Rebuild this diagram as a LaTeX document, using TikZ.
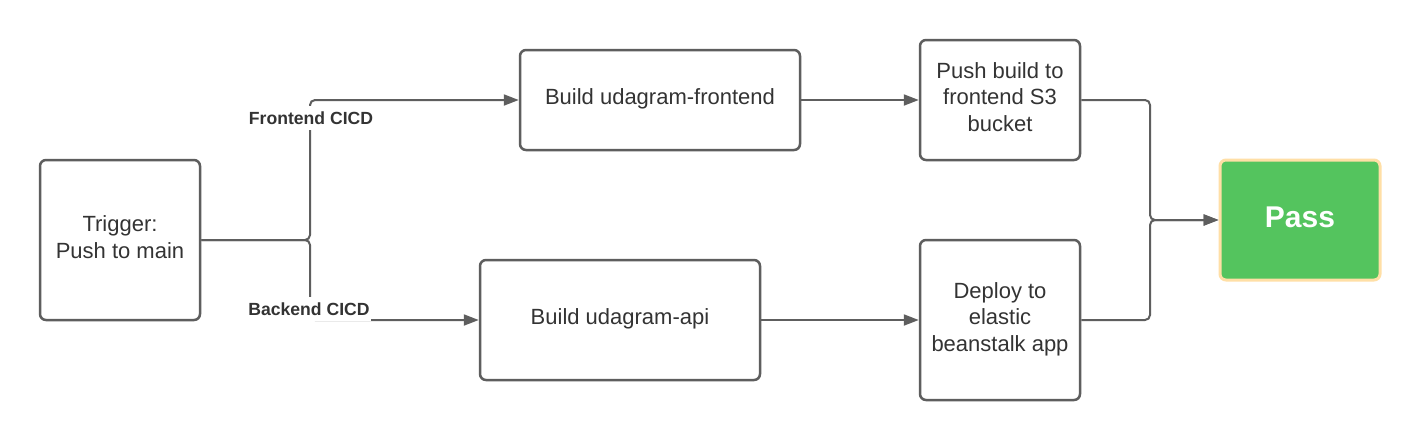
\documentclass[tikz,border=0pt]{standalone}
\usepackage{fontspec}
\setmainfont{Liberation Sans}
\usetikzlibrary{arrows.meta}
\definecolor{edgec}{HTML}{5E5E5E}
\definecolor{txt}{HTML}{333333}
\definecolor{passg}{HTML}{54C45E}
\definecolor{passb}{HTML}{FFDFA6}
\newcommand{\liftstrut}{\rule[-6pt]{0pt}{6pt}}
\begin{document}
\begin{tikzpicture}[x=1pt,y=-1pt,
  box/.style={draw=edgec, line width=2.5pt, rounded corners=6pt, align=center, text=txt,
    font=\fontsize{22}{26.5}\selectfont, inner sep=0pt, execute at end node=\liftstrut},
  conn/.style={draw=edgec, line width=2pt, rounded corners=5pt, -{Triangle[length=15pt,width=11pt]}},
  lab/.style={fill=white, text=txt, font=\bfseries\fontsize{17.6}{20}\selectfont, inner xsep=1pt, inner ysep=6pt}]
\useasboundingbox[fill=white] (0,0) rectangle (1420,440);

\node[box, minimum width=160pt, minimum height=160pt] (trig) at (120,240) {Trigger:\\Push to main};
\node[box, minimum width=280pt, minimum height=100pt] (fe) at (660,100) {Build udagram-frontend};
\node[box, minimum width=280pt, minimum height=120pt] (be) at (620,320) {Build udagram-api};
\node[box, minimum width=160pt, minimum height=120pt] (s3) at (1000,100) {Push build to\\frontend S3\\bucket};
\node[box, minimum width=160pt, minimum height=160pt] (eb) at (1000,320) {Deploy to\\elastic\\beanstalk app};
\node[draw=passb, fill=passg, line width=3pt, rounded corners=6pt, minimum width=160pt, minimum height=120pt,
  text=white, font=\bfseries\fontsize{30}{36}\selectfont, execute at end node=\liftstrut] (pass) at (1300,220) {Pass};

\coordinate (j1) at (310,240);
\coordinate (j2) at (1150,220);

\draw[conn] (trig.east) -- (j1) |- (fe.west);
\draw[conn] (trig.east) -- (j1) |- (be.west);
\draw[conn] (fe.east) -- (s3.west);
\draw[conn] (be.east) -- (be.east -| eb.west);
\draw[conn] (s3.east) -| (j2) -- (pass.west);
\draw[conn] (eb.east) -| (j2) -- (pass.west);

\node[lab] (flab) at (311,118) {Frontend CICD};
\node[lab] (blab) at (309,309) {Backend CICD};
\end{tikzpicture}
\end{document}
